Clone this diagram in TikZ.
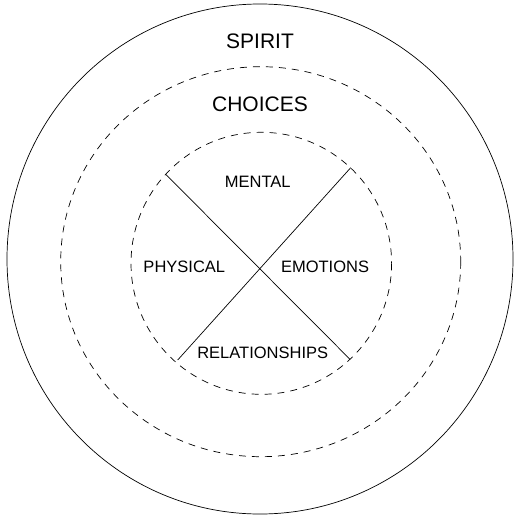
\documentclass[tikz,border=0pt]{standalone}
\usepackage{fontspec}
\setmainfont{Liberation Sans}
\begin{document}
\begin{tikzpicture}[
  x = 1pt, y = -1pt,
  ring/.style = {line width = 0.7pt},
  dashring/.style = {line width = 0.7pt, dash pattern = on 7pt off 6pt},
  big/.style = {font = \fontsize{21}{24}\selectfont, inner sep = 0pt},
  small/.style = {font = \fontsize{16.5}{19}\selectfont, inner sep = 0pt},
  ]
  \useasboundingbox (0,0) rectangle (514,516);
  \coordinate (c) at (260,259);
  \draw[ring] (c) ellipse [x radius = 253, y radius = 255];
  \draw[dashring] (260.7,261.7) ellipse [x radius = 200, y radius = 195];
  \draw[dashring] (261.3,263.3) ellipse [x radius = 130.3, y radius = 131];
  % cross
  \coordinate (nw) at (165.7,174.3);
  \coordinate (se) at (350,359.3);
  \coordinate (ne) at (350.7,167.7);
  \coordinate (sw) at (177.7,360);
  \draw[ring] (nw) -- (se);
  \draw[ring] (ne) -- (sw);
  % labels
  \node[big] (spirit) at (260,41.7) {SPIRIT};
  \node[big] (choices) at (260,104.3) {CHOICES};
  \node[small] (mental) at (257.7,181.7) {MENTAL};
  \node[small] (physical) at (184.3,266.7) {PHYSICAL};
  \node[small] (emotions) at (325,266.7) {EMOTIONS};
  \node[small] (relations) at (262.7,352.7) {RELATIONSHIPS};
\end{tikzpicture}
\end{document}
